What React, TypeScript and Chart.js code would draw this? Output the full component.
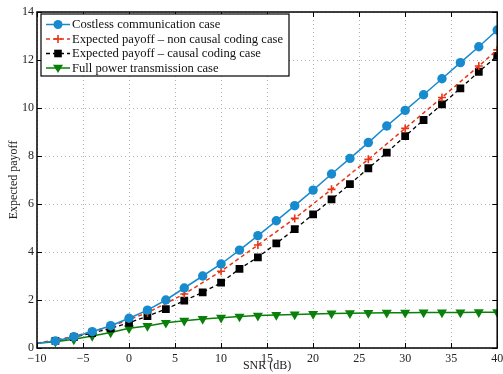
import React, { useEffect, useRef } from "react";
import { Chart, registerables } from "chart.js";

Chart.register(...registerables);

// SNR values (dB)
const snrAll: number[] = [-10, -8, -6, -4, -2, 0, 2, 4, 6, 8, 10, 12, 14, 16, 18, 20, 22, 24, 26, 28, 30, 32, 34, 36, 38, 40];
const snrNonCausal: number[] = [-10, -6, -2, 2, 6, 10, 14, 18, 22, 26, 30, 34, 38, 40];

const costless: number[] = [0.2, 0.29, 0.47, 0.68, 0.93, 1.24, 1.58, 2.0, 2.5, 3.0, 3.5, 4.08, 4.68, 5.3, 5.93, 6.58, 7.25, 7.9, 8.56, 9.25, 9.9, 10.55, 11.22, 11.89, 12.55, 13.25];
const nonCausal: number[] = [0.2, 0.48, 0.9, 1.47, 2.25, 3.2, 4.29, 5.4, 6.61, 7.86, 9.15, 10.44, 11.75, 12.42];
const causal: number[] = [0.2, 0.3, 0.45, 0.62, 0.82, 1.05, 1.33, 1.62, 1.97, 2.32, 2.72, 3.3, 3.78, 4.36, 4.95, 5.57, 6.19, 6.83, 7.49, 8.14, 8.83, 9.5, 10.15, 10.82, 11.51, 12.17];
const fullPower: number[] = [0.2, 0.26, 0.36, 0.5, 0.65, 0.82, 0.92, 1.05, 1.14, 1.21, 1.26, 1.31, 1.35, 1.38, 1.4, 1.42, 1.44, 1.45, 1.46, 1.47, 1.47, 1.48, 1.48, 1.48, 1.49, 1.49];

const seriesLabels: string[] = [
  "Costless communication case",
  "Expected payoff \u2013 non causal coding case",
  "Expected payoff \u2013 causal coding case",
  "Full power transmission case",
];

const xTicks: number[] = [-10, -5, 0, 5, 10, 15, 20, 25, 30, 35, 40];
const yTicks: number[] = [0, 2, 4, 6, 8, 10, 12, 14];

const BLUE = "rgb(24,138,206)";
const RED = "rgb(232,52,20)";
const BLACK = "#000";
const GREEN = "rgb(10,128,10)";
const FONT = "'Liberation Serif', 'Times New Roman', serif";

const pts = (xs: number[], ys: number[]) => xs.map((x, i) => ({ x, y: ys[i] }));

const firstHidden = (r: number) => (ctx: any) => (ctx.dataIndex === 0 ? 0 : r);

const boxPlugin = {
  id: "matlabBox",
  afterDraw(chart: any) {
    const { ctx, chartArea: a, scales } = chart;
    const xs = scales.x;
    const ys = scales.y;
    ctx.save();
    ctx.strokeStyle = "#000";
    ctx.lineWidth = 1;
    // inside ticks
    ctx.beginPath();
    const tl = 5;
    xTicks.forEach((v) => {
      const px = Math.round(xs.getPixelForValue(v)) + 0.5;
      ctx.moveTo(px, a.bottom);
      ctx.lineTo(px, a.bottom - tl);
      ctx.moveTo(px, a.top);
      ctx.lineTo(px, a.top + tl);
    });
    yTicks.forEach((v) => {
      const py = Math.round(ys.getPixelForValue(v)) + 0.5;
      ctx.moveTo(a.left, py);
      ctx.lineTo(a.left + tl, py);
      ctx.moveTo(a.right, py);
      ctx.lineTo(a.right - tl, py);
    });
    ctx.stroke();
    ctx.lineWidth = 1.5;
    ctx.strokeRect(a.left, a.top, a.right - a.left, a.bottom - a.top);

    // axis titles
    ctx.fillStyle = "#222";
    ctx.font = `12px ${FONT}`;
    ctx.textAlign = "center";
    ctx.textBaseline = "middle";
    ctx.fillText("SNR (dB)", (a.left + a.right) / 2, 366);
    ctx.save();
    ctx.translate(14, (a.top + a.bottom) / 2);
    ctx.rotate(-Math.PI / 2);
    ctx.fillText("Expected payoff", 0, 0);
    ctx.restore();

    // legend
    const lx = a.left + 4;
    const ly = a.top + 2;
    const lw = 248;
    const lh = 62;
    ctx.fillStyle = "#fff";
    ctx.fillRect(lx, ly, lw, lh);
    ctx.lineWidth = 1.2;
    ctx.strokeStyle = "#000";
    ctx.strokeRect(lx, ly, lw, lh);
    const rows = [24.5, 39, 53.5, 68];
    const styles = [
      { color: BLUE, dash: [] as number[], marker: "circle" },
      { color: RED, dash: [4, 3], marker: "plus" },
      { color: BLACK, dash: [4, 3], marker: "square" },
      { color: GREEN, dash: [] as number[], marker: "tri" },
    ];
    ctx.font = `12.6px ${FONT}`;
    ctx.textAlign = "left";
    styles.forEach((s, i) => {
      const y = rows[i];
      ctx.strokeStyle = s.color;
      ctx.lineWidth = 1.5;
      ctx.setLineDash(s.dash);
      ctx.beginPath();
      ctx.moveTo(lx + 5, y);
      ctx.lineTo(lx + 29, y);
      ctx.stroke();
      ctx.setLineDash([]);
      const mx = lx + 17;
      ctx.fillStyle = s.color;
      ctx.beginPath();
      if (s.marker === "circle") {
        ctx.arc(mx, y, 4.5, 0, Math.PI * 2);
        ctx.fill();
      } else if (s.marker === "square") {
        ctx.fillRect(mx - 3.8, y - 3.8, 7.6, 7.6);
      } else if (s.marker === "plus") {
        ctx.lineWidth = 1.6;
        ctx.moveTo(mx - 4, y);
        ctx.lineTo(mx + 4, y);
        ctx.moveTo(mx, y - 4);
        ctx.lineTo(mx, y + 4);
        ctx.stroke();
      } else {
        ctx.moveTo(mx - 5, y - 3.2);
        ctx.lineTo(mx + 5, y - 3.2);
        ctx.lineTo(mx, y + 5);
        ctx.closePath();
        ctx.fill();
      }
      ctx.fillStyle = "#111";
      ctx.fillText(seriesLabels[i], lx + 31, y + 0.5);
    });
    ctx.restore();
  },
};

export default function App() {
  const ref = useRef<HTMLCanvasElement | null>(null);
  useEffect(() => {
    document.body.style.margin = "0";
    const canvas = ref.current;
    if (!canvas) return;
    const chart = new Chart(canvas, {
      type: "line",
      data: {
        datasets: [
          {
            label: seriesLabels[0],
            data: pts(snrAll, costless),
            borderColor: BLUE,
            backgroundColor: BLUE,
            borderWidth: 1.5,
            pointStyle: "circle",
            pointRadius: firstHidden(4.7),
            pointBorderWidth: 0,
          },
          {
            label: seriesLabels[1],
            data: pts(snrNonCausal, nonCausal),
            borderColor: RED,
            backgroundColor: RED,
            borderWidth: 1.5,
            borderDash: [4, 3],
            pointStyle: "crossRot",
            pointRotation: 45,
            pointRadius: firstHidden(4),
            pointBorderWidth: 1.6,
          },
          {
            label: seriesLabels[2],
            data: pts(snrAll, causal),
            borderColor: BLACK,
            backgroundColor: BLACK,
            borderWidth: 1.3,
            borderDash: [4, 3],
            pointStyle: "rect",
            pointRadius: firstHidden(5.5),
            pointBorderWidth: 0,
          },
          {
            label: seriesLabels[3],
            data: pts(snrAll, fullPower),
            borderColor: GREEN,
            backgroundColor: GREEN,
            borderWidth: 1.5,
            pointStyle: "triangle",
            pointRotation: 180,
            pointRadius: firstHidden(5.8),
            pointBorderWidth: 0,
          },
        ],
      },
      options: {
        animation: false,
        responsive: false,
        maintainAspectRatio: false,
        layout: { padding: { top: 12, right: 4, left: 0, bottom: 0 } },
        plugins: { legend: { display: false }, tooltip: { enabled: false } },
        elements: { line: { tension: 0 } },
        scales: {
          x: {
            type: "linear",
            min: -10,
            max: 40,
            afterBuildTicks: (s: any) => {
              s.ticks = xTicks.map((v) => ({ value: v }));
            },
            afterFit: (s: any) => {
              s.height = 26;
              s.paddingRight = 0;
              s.paddingLeft = 0;
            },
            grid: { color: "#b0b0b0", lineWidth: 1, drawTicks: false },
            border: { display: false, dash: [1, 3] },
            ticks: {
              padding: 4,
              color: "#222",
              font: { family: FONT, size: 12 },
              maxRotation: 0,
              callback: (v: any) => String(v).replace("-", "\u2212"),
            },
          },
          y: {
            type: "linear",
            min: 0,
            max: 14,
            afterBuildTicks: (s: any) => {
              s.ticks = yTicks.map((v) => ({ value: v }));
            },
            afterFit: (s: any) => {
              s.width = 37;
              s.paddingTop = 0;
              s.paddingBottom = 0;
            },
            grid: { color: "#b0b0b0", lineWidth: 1, drawTicks: false },
            border: { display: false, dash: [1, 3] },
            ticks: {
              padding: 3,
              color: "#222",
              font: { family: FONT, size: 12 },
              callback: (v: any) => String(v),
            },
          },
        },
      },
      plugins: [boxPlugin],
    });
    return () => chart.destroy();
  }, []);
  return (
    <div style={{ width: 503, height: 374 }}>
      <canvas ref={ref} width={503} height={374} style={{ display: "block" }} />
    </div>
  );
}
